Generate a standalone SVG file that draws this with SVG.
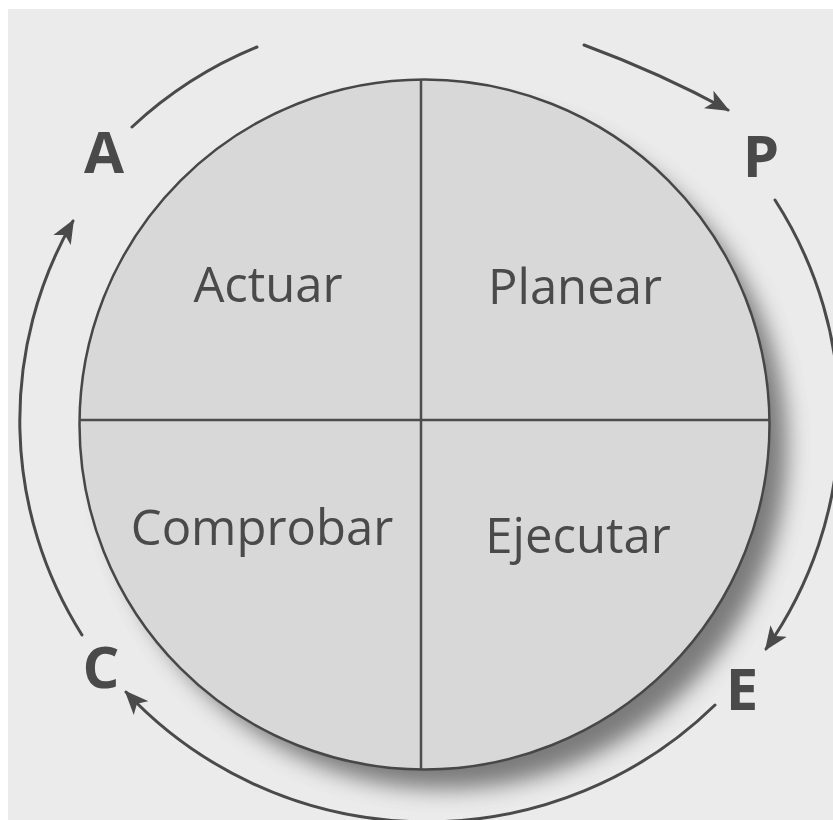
<svg xmlns="http://www.w3.org/2000/svg" width="833" height="820" viewBox="0 0 833 820">
<style>
.arc{fill:none;stroke:#4a4a4a;stroke-width:3;stroke-linecap:round}
.lbl{font-family:"Open Sans","Liberation Sans",sans-serif;font-size:49px;fill:#4a4a4a;text-anchor:middle}
.ltr{font-family:"Open Sans","Liberation Sans",sans-serif;font-weight:700;font-size:58px;fill:#4a4a4a;text-anchor:middle}
.div{stroke:#4d4d4d;stroke-width:2.5}
</style>
<defs>
<marker id="ah" viewBox="0 0 12 10" refX="11" refY="5" markerWidth="8" markerHeight="7" markerUnits="strokeWidth" orient="auto">
<path d="M0,0 L12,5 L0,10 L3,5 z" fill="#4a4a4a"/>
</marker>
<filter id="blur" x="-20%" y="-20%" width="140%" height="140%"><feGaussianBlur stdDeviation="11"/></filter>
</defs>
<rect x="0" y="0" width="833" height="820" fill="#ffffff"/>
<rect x="8" y="9" width="825" height="811" fill="#ebebeb"/>
<circle cx="445" cy="447" r="342" fill="#5e5e5e" filter="url(#blur)" opacity="0.8"/>
<g id="circle">
<circle cx="424.5" cy="424.5" r="345" fill="#d8d8d8" stroke="#474747" stroke-width="2.5"/>
<line class="div" x1="421" y1="80" x2="421" y2="769"/>
<line class="div" x1="79" y1="420" x2="770" y2="420"/>
</g>
<g id="q-actuar"><text class="lbl" x="268" y="302">Actuar</text></g>
<g id="q-planear"><text class="lbl" x="575" y="304">Planear</text></g>
<g id="q-comprobar"><text class="lbl" x="262" y="545">Comprobar</text></g>
<g id="q-ejecutar"><text class="lbl" x="578" y="553">Ejecutar</text></g>
<g id="n-A"><text class="ltr" x="104" y="173">A</text></g>
<g id="n-P"><text class="ltr" x="761" y="177">P</text></g>
<g id="n-C"><text class="ltr" x="101" y="688">C</text></g>
<g id="n-E"><text class="ltr" x="742" y="710">E</text></g>
<g id="connectors">
<path class="arc" d="M132,127 A410,405 0 0 1 257,47"/>
<path class="arc" d="M584,45 Q660,73 728,110" marker-end="url(#ah)"/>
<path class="arc" d="M775,200 A410,405 0 0 1 766,649" marker-end="url(#ah)"/>
<path class="arc" d="M715,705 A410,405 0 0 1 126,692" marker-end="url(#ah)"/>
<path class="arc" d="M82,635 A410,405 0 0 1 73,221" marker-end="url(#ah)"/>
</g>
</svg>
